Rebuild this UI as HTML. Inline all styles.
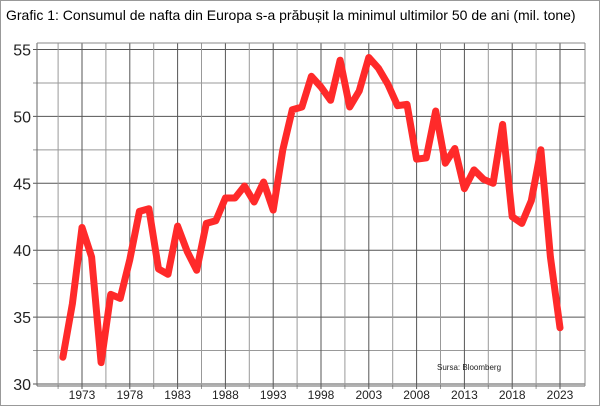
<!DOCTYPE html>
<html><head><style>
body{margin:0;background:#fff;}
svg{display:block;font-family:"Liberation Sans",sans-serif;}
</style></head><body>
<svg width="600" height="406" viewBox="0 0 600 406">
<rect x="0.5" y="0.5" width="599" height="405" fill="#fff" stroke="#999"/>
<text x="6" y="20" font-size="14" fill="#000">Grafic 1: Consumul de nafta din Europa s-a prăbușit la minimul ultimilor 50 de ani (mil. tone)</text>
<g id="grid" stroke-width="1"></g>
<g id="lab"></g>
<polyline id="line" fill="none" stroke="#ff2a2a" stroke-width="7" stroke-linejoin="round" stroke-linecap="round"/>
<text x="437" y="370" font-size="8" fill="#222">Sursa: Bloomberg</text>
</svg>
<script>
const ns="http://www.w3.org/2000/svg";
const X=y=>82+(y-1973)*9.56, Y=v=>384-(v-30)*13.38;
const L=37,R=585,T=43,B=386;
const g=document.getElementById('grid'),lab=document.getElementById('lab');
function ln(x1,y1,x2,y2,c){const e=document.createElementNS(ns,'line');e.setAttribute('x1',x1);e.setAttribute('y1',y1);e.setAttribute('x2',x2);e.setAttribute('y2',y2);e.setAttribute('stroke',c);g.appendChild(e);}
function tx(x,y,s,fs,a){const e=document.createElementNS(ns,'text');e.setAttribute('x',x);e.setAttribute('y',y);e.setAttribute('font-size',fs);e.setAttribute('text-anchor',a);e.setAttribute('fill','#222');e.textContent=s;lab.appendChild(e);}
for(let v=30;v<=55.01;v+=2.5){const y=Y(v);ln(L-4,y,R,y,v%5==0?'#555':'#999');if(v%5==0)tx(31,y+6,String(v),16,'end');}
for(let yr=1970.5;yr<=2025;yr+=2.5){const x=X(yr);if(x<L||x>R)continue;ln(x,T,x,B+3,Number.isInteger(yr)&&yr%5==3?'#555':'#999');}
for(let yr=1973;yr<=2023;yr+=5)tx(X(yr),B+13,String(yr),12,'middle');
ln(L,T,L,B,'#666');ln(L,B,R,B,'#666');ln(R,T,R,B,'#888');ln(L,T,R,T,'#888');
const d=[32,36,41.7,39.5,31.6,36.7,36.4,39.3,42.9,43.1,38.6,38.2,41.8,39.9,38.5,42,42.2,43.9,43.9,44.8,43.6,45.1,43,47.5,50.5,50.7,53,52.2,51.2,54.2,50.7,51.9,54.4,53.6,52.4,50.8,50.9,46.8,46.9,50.4,46.5,47.6,44.6,46,45.3,45,49.4,42.5,42,43.7,47.5,39.5,34.2];
document.getElementById('line').setAttribute('points',d.map((v,i)=>X(1971+i).toFixed(1)+','+Y(v).toFixed(1)).join(' '));
</script>
</body></html>
